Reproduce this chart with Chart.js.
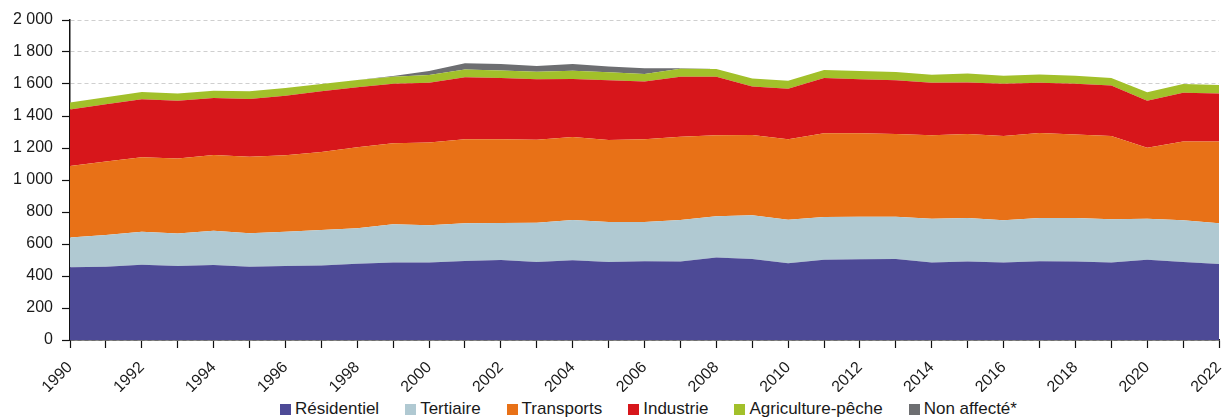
<!DOCTYPE html>
<html>
<head>
<meta charset="utf-8">
<script src="https://cdn.jsdelivr.net/npm/chart.js@4/dist/chart.umd.min.js"></script>
<style>
  body { margin:0; background:#fff; font-family:"Liberation Sans", Arial, sans-serif; }
  #wrap { position:relative; width:1225px; height:419px; }
  #legend {
    position:absolute; left:74px; top:399px; width:1149px; height:20px;
    display:flex; justify-content:center; align-items:center; gap:26px;
    font-size:17px; color:#1a1a1a; white-space:nowrap;
  }
  #legend .box { display:inline-block; width:11px; height:11px; margin-right:4px; vertical-align:-1px; }
</style>
</head>
<body>
<div id="wrap">
  <canvas id="chart" width="1225" height="392"></canvas>
  <div id="legend"></div>
</div>
<script>
// =========================================
// DATA
// =========================================

const years = [
  "1990","1991","1992","1993","1994","1995","1996","1997","1998","1999",
  "2000","2001","2002","2003","2004","2005","2006","2007","2008","2009",
  "2010","2011","2012","2013","2014","2015","2016","2017","2018","2019",
  "2020","2021","2022"
];

const residentiel = [454,458,471,462,469,458,462,465,477,485,485,494,500,487,498,487,492,490,515,506,479,502,504,506,485,490,485,492,490,485,502,487,475];
const tertiaire   = [186,198,206,203,214,209,215,223,221,238,232,235,231,246,252,250,245,260,258,273,273,267,267,265,273,272,263,270,272,269,256,261,254];
const transports  = [447,459,465,470,473,479,477,487,506,506,518,525,523,519,519,513,517,521,506,502,502,523,521,516,521,525,527,532,523,521,444,492,511];
const industrie   = [353,358,362,361,356,360,373,379,375,373,373,388,383,377,362,373,361,375,367,304,317,345,337,336,329,323,327,314,317,315,294,306,300];
const agriculture = [45,44,46,44,46,48,48,46,46,44,48,48,48,48,52,50,47,50,48,50,50,51,52,52,50,55,50,52,50,47,52,54,54];
const nonAffecte  = [0,0,0,0,0,0,0,0,0,4,25,39,40,35,42,37,36,2,0,0,0,0,0,0,0,0,0,0,0,0,0,0,0];

const seriesNames  = ["Résidentiel","Tertiaire","Transports","Industrie","Agriculture-pêche","Non affecté*"];
const seriesValues = [residentiel, tertiaire, transports, industrie, agriculture, nonAffecte];
const seriesColors = ["#4d4a96","#b0c9d2","#e87117","#d7161b","#a2c02a","#6d6e71"];

const yTicks = { min:0, max:2000, step:200 };

// =========================================
// CHART
// =========================================

const FONT = "'Liberation Sans', Arial, sans-serif";

function fmt(v){
  if(v >= 1000){
    return Math.floor(v/1000) + " " + String(v % 1000).padStart(3,"0");
  }
  return String(v);
}

const datasets = seriesNames.map((name, i) => ({
  label: name,
  data: seriesValues[i],
  backgroundColor: seriesColors[i],
  borderColor: seriesColors[i],
  borderWidth: 0,
  pointRadius: 0,
  tension: 0,
  fill: i === 0 ? 'origin' : '-1'
}));

const chart = new Chart(document.getElementById('chart'), {
  type: 'line',
  data: { labels: years, datasets: datasets },
  options: {
    responsive: false,
    animation: false,
    layout: { padding: { top: 20, right: 6, left: 0, bottom: 0 } },
    plugins: {
      legend: { display: false },
      tooltip: { enabled: false }
    },
    scales: {
      x: {
        offset: false,
        grid: {
          drawOnChartArea: false,
          drawTicks: true,
          tickLength: 8,
          tickColor: '#111',
          tickWidth: 1.2
        },
        border: { display: true, color: '#111', width: 1.5 },
        ticks: {
          autoSkip: false,
          minRotation: 45,
          maxRotation: 45,
          padding: 10,
          color: '#1a1a1a',
          font: { family: FONT, size: 16 },
          callback: function(value, index){
            return index % 2 === 0 ? years[index] : '';
          }
        },
        afterFit: function(scale){
          scale.height = 52;
          scale.paddingLeft = 0;
          scale.paddingRight = 0;
        }
      },
      y: {
        stacked: true,
        min: yTicks.min,
        max: yTicks.max,
        grid: {
          color: '#cfcfcf',
          lineWidth: 1,
          drawTicks: true,
          tickLength: 8,
          tickColor: '#111',
          tickWidth: 1.2,
          tickBorderDash: []
        },
        // in v4 the dash here applies to the grid lines
        border: { display: true, color: '#111', width: 1.5, dash: [4,3] },
        ticks: {
          stepSize: yTicks.step,
          padding: 9,
          color: '#1a1a1a',
          font: { family: FONT, size: 16 },
          callback: function(value){ return fmt(value); }
        },
        afterFit: function(scale){
          scale.width = 70;
          scale.paddingTop = 0;
          scale.paddingBottom = 0;
        }
      }
    }
  }
});

// =========================================
// LEGEND
// =========================================

const legend = document.getElementById('legend');
seriesNames.forEach((name, i) => {
  const item = document.createElement('span');
  const box = document.createElement('span');
  box.className = 'box';
  box.style.background = seriesColors[i];
  item.appendChild(box);
  item.appendChild(document.createTextNode(name));
  legend.appendChild(item);
});
</script>
</body>
</html>
